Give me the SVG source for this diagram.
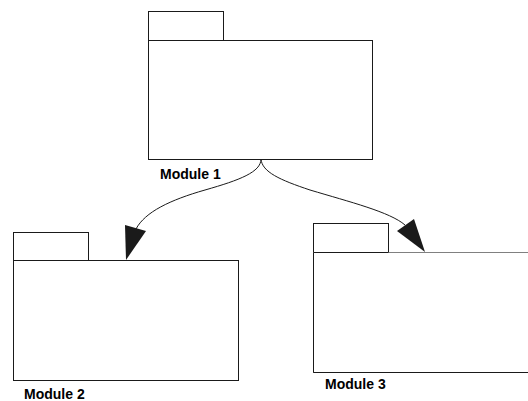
<svg xmlns="http://www.w3.org/2000/svg" width="528" height="401" viewBox="0 0 528 401">
<style>
.box{fill:#fff;stroke:#1a1a1a;stroke-width:1}
.lbl{font-family:"Liberation Sans",Arial,sans-serif;font-weight:bold;font-size:14px;fill:#000}
.edge{fill:none;stroke:#1a1a1a;stroke-width:1}
.head{fill:#1a1a1a;stroke:none}
</style>
<rect width="528" height="401" fill="#fff"/>
<g id="module1">
<rect class="box" x="148.5" y="11.5" width="75" height="29"/>
<rect class="box" x="148.5" y="40.5" width="224" height="119"/>
<text class="lbl" x="160" y="179">Module 1</text>
</g>
<g id="module2">
<rect class="box" x="13.5" y="232.5" width="75" height="28"/>
<rect class="box" x="13.5" y="260.5" width="225" height="120"/>
<text class="lbl" x="24" y="399">Module 2</text>
</g>
<g id="module3">
<rect class="box" x="313.5" y="223.5" width="75" height="29"/>
<rect class="box" x="313.5" y="252.5" width="230" height="120" style="stroke:#808080"/>
<path d="M313.5,252.5 V372.5 H528 M313.5,252.5 H388.5" class="edge"/>
<text class="lbl" x="325" y="389">Module 3</text>
</g>
<g id="connectors">
<path class="edge" d="M261,159 C261,172 240,180 205,190 C170,200 145,212 136,229"/>
<polygon class="head" points="126,260 125,225 146,231"/>
<path class="edge" d="M261,159 C262,172 280,180 310,190 C350,202 390,212 405,225"/>
<polygon class="head" points="425,252 397,231 414,219"/>
</g>
</svg>
